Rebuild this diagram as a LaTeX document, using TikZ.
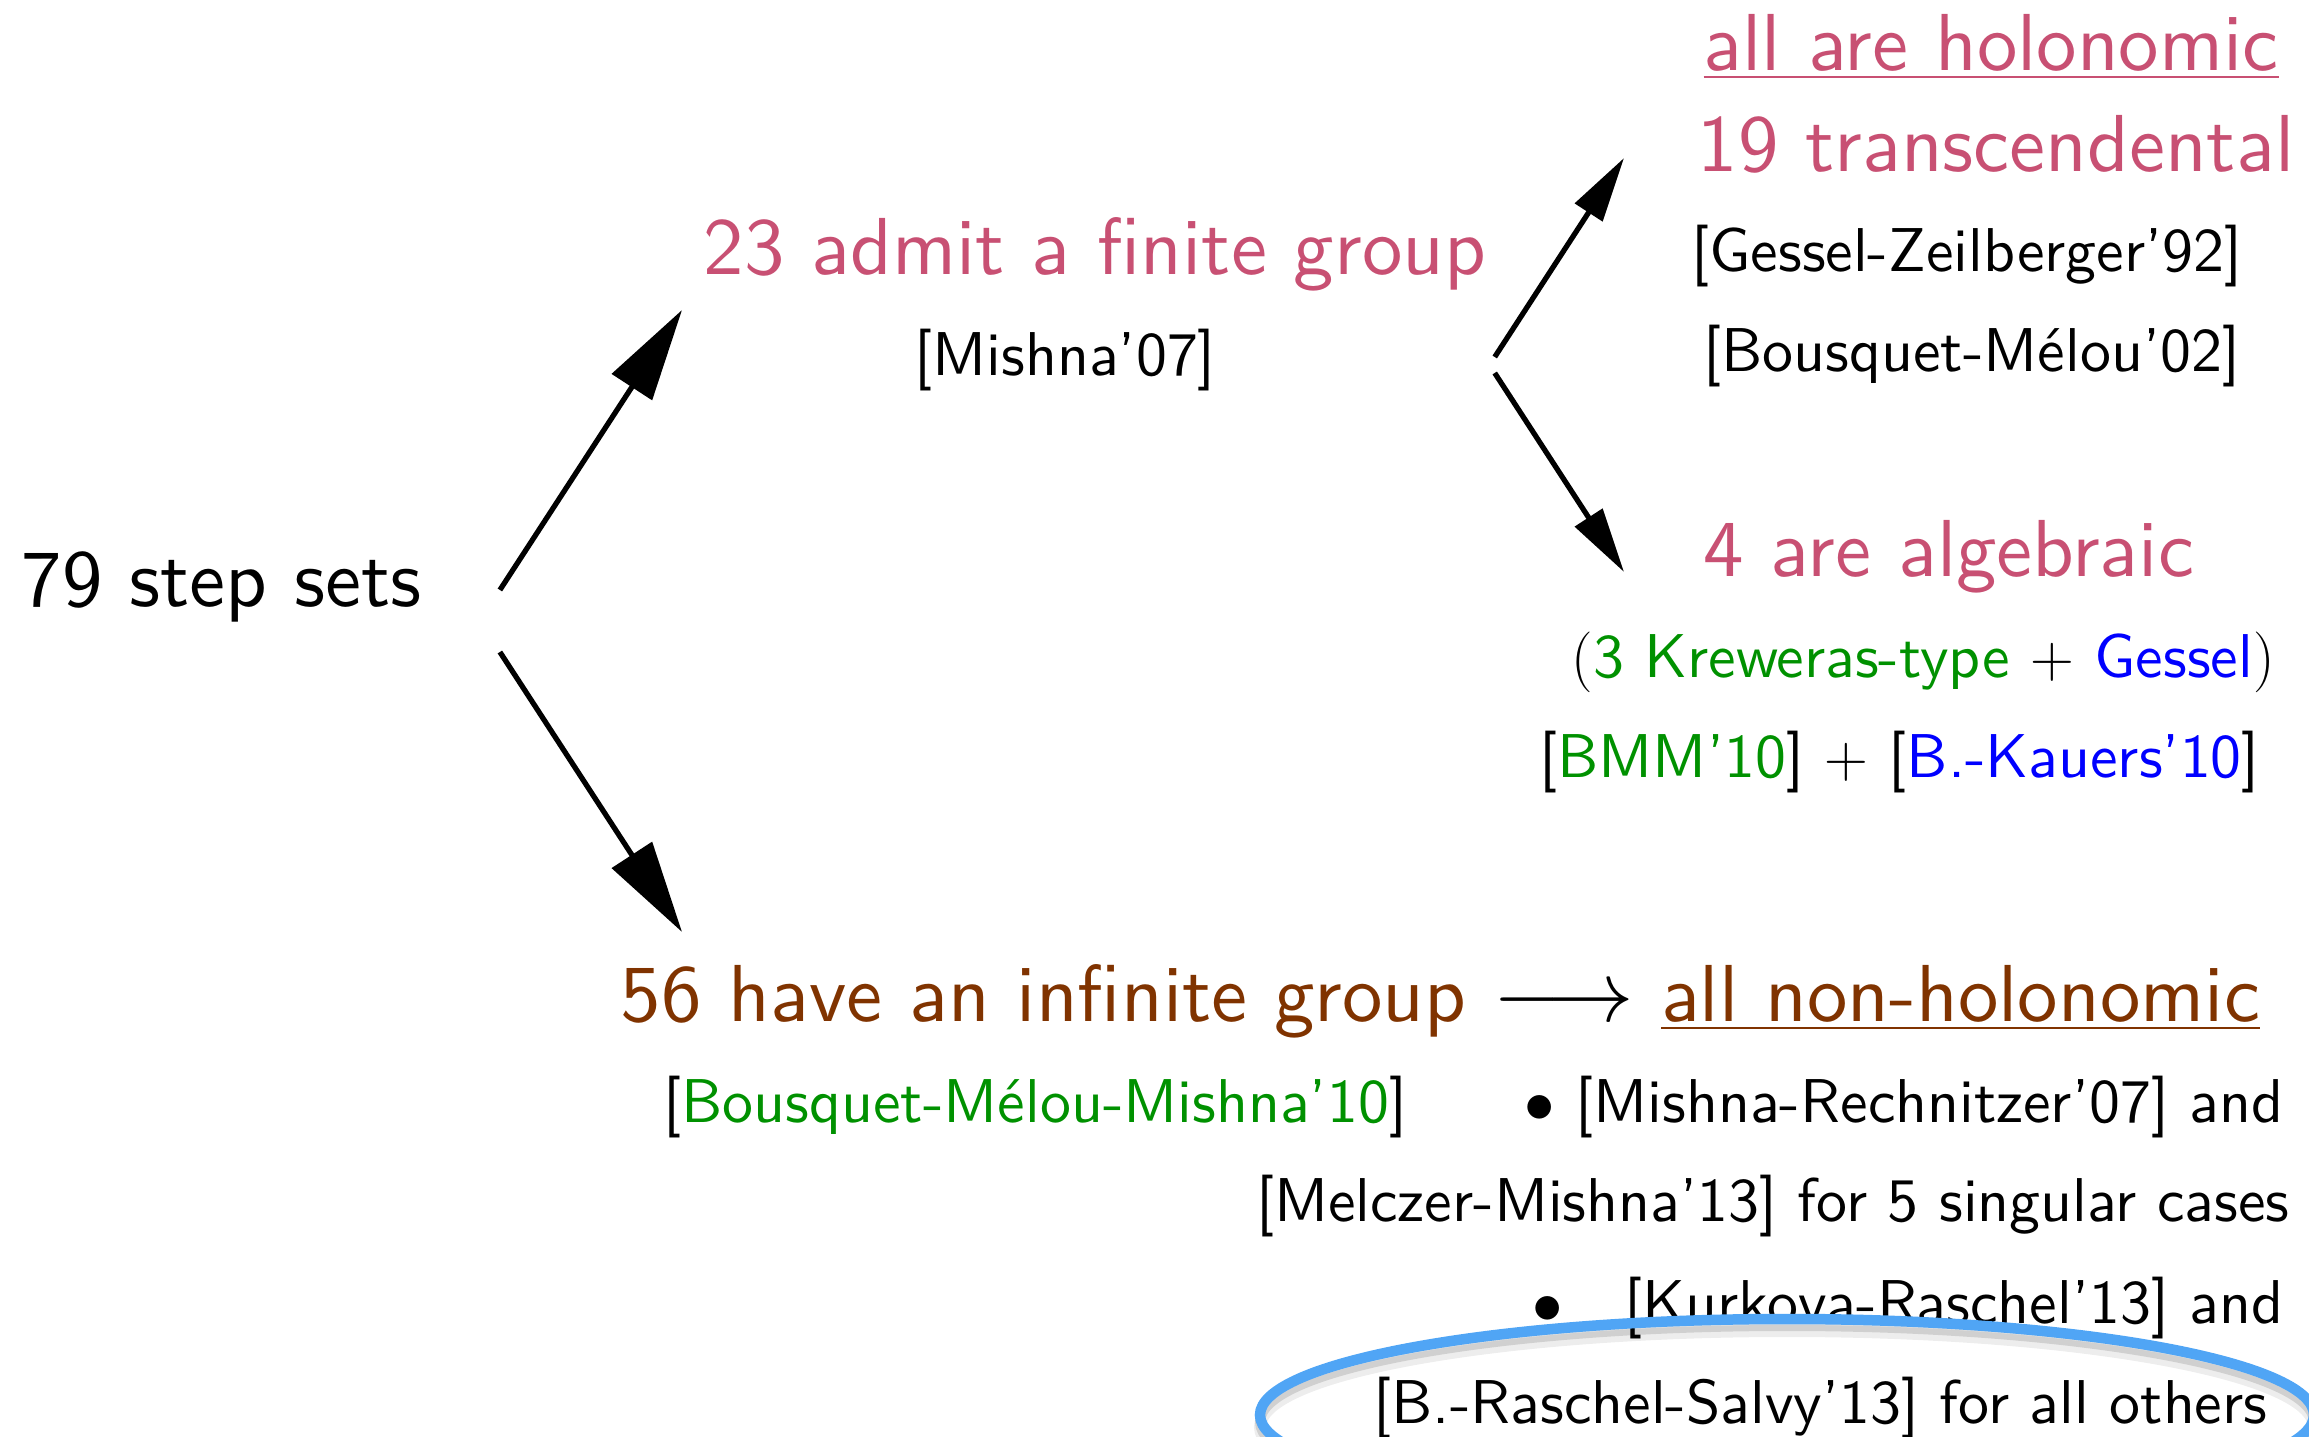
\documentclass[tikz,border=0pt]{standalone}
\usepackage{fontspec}
\setsansfont{lmsans10-regular.otf}
\usepackage{tikz}
\usetikzlibrary{arrows.meta}

\definecolor{finitepink}{RGB}{200,80,115}
\definecolor{infbrown}{RGB}{128,51,0}
\definecolor{refgreen}{RGB}{0,145,0}
\definecolor{refblue}{RGB}{0,0,255}
\definecolor{ringblue}{RGB}{80,165,245}

\tikzset{
  claim/.style = {font = \fontsize{23}{28}\selectfont\sffamily, inner sep = 0pt},
  cite/.style = {font = \fontsize{17.6}{21}\selectfont\sffamily, inner sep = 0pt},
  bigarrow/.style = {line width = 1.5pt, -{Triangle[length = 9.2mm, width = 4.7mm]}},
  smallarrow/.style = {line width = 1.5pt, -{Triangle[length = 6.5mm, width = 3.2mm]}}
}

\begin{document}
\begin{tikzpicture}[x = 0.1mm, y = -0.1mm]
\useasboundingbox (0,0) rectangle (2309,1437);

% start and the two families
\node[claim, anchor = base west] (steps) at (21,607) {79 step sets};
\node[claim, anchor = base west, text = finitepink] (finite) at (703,275) {23 admit a finite group};
\node[cite, anchor = base west] (mishna) at (914,376) {[Mishna’07]};
\node[claim, anchor = base west, text = infbrown] (infinite) at (620,1022) {56 have an infinite group \textcolor{black}{$\longrightarrow$} \underline{all non-holonomic}};
\node[cite, anchor = base west] (bmm) at (663,1123) {[\textcolor{refgreen}{Bousquet-Mélou-Mishna’10}]};

% finite group branch
\node[claim, anchor = base west, text = finitepink] (holo) at (1703,71) {\underline{all are holonomic}};
\node[claim, anchor = base west, text = finitepink] (transc) at (1697,172) {19 transcendental};
\node[cite, anchor = base west] (gz) at (1691,272) {[Gessel-Zeilberger’92]};
\node[cite, anchor = base west] (bm) at (1703,372) {[Bousquet-Mélou’02]};
\node[claim, anchor = base west, text = finitepink] (alg) at (1703,577) {4 are algebraic};
\node[cite, anchor = base west] (krew) at (1571,678) {$($\textcolor{refgreen}{3 Kreweras-type} $+$ \textcolor{refblue}{Gessel}$)$};
\node[cite, anchor = base west] (bmmref) at (1539,778) {[\textcolor{refgreen}{BMM’10}] $+$ [\textcolor{refblue}{B.-Kauers’10}]};

% infinite group references
\node[cite, anchor = base east] (mr) at (2284,1123) {$\bullet$ [Mishna-Rechnitzer’07] and};
\node[cite, anchor = base east] (mm) at (2290,1222) {[Melczer-Mishna’13] for 5 singular cases};
\node[cite, anchor = base east] (kr) at (2284,1323) {$\bullet$\quad[Kurkova-Raschel’13] and};
\node[cite, anchor = base east] (brs) at (2268,1423) {[B.-Raschel-Salvy’13] for all others};

% arrows
\draw[bigarrow] ([xshift = 7.8mm, yshift = 1.7mm]steps.base east) -- ([xshift = -2.1mm, yshift = -3.5mm]finite.base west);
\draw[bigarrow] ([xshift = 7.8mm, yshift = -4.5mm]steps.base east) -- ([xshift = 6.2mm, yshift = 9mm]infinite.base west);
\draw[smallarrow] ([xshift = 0.8mm, yshift = -8.2mm]finite.base east) -- ([xshift = -7.3mm, yshift = 1.4mm]transc.base west);
\draw[smallarrow] ([xshift = 0.8mm, yshift = -9.8mm]finite.base east) -- ([xshift = -7.9mm, yshift = 0.5mm]alg.base west);

% highlight ring
\draw[black, opacity = 0.07, line width = 1.2mm] (1787,1427) ellipse [x radius = 5.27cm, y radius = 0.96cm];
\draw[black, opacity = 0.12, line width = 1mm] (1787,1422) ellipse [x radius = 5.27cm, y radius = 0.96cm];
\draw[ringblue, line width = 1.05mm] (1787,1415) ellipse [x radius = 5.27cm, y radius = 0.96cm];
\end{tikzpicture}
\end{document}
